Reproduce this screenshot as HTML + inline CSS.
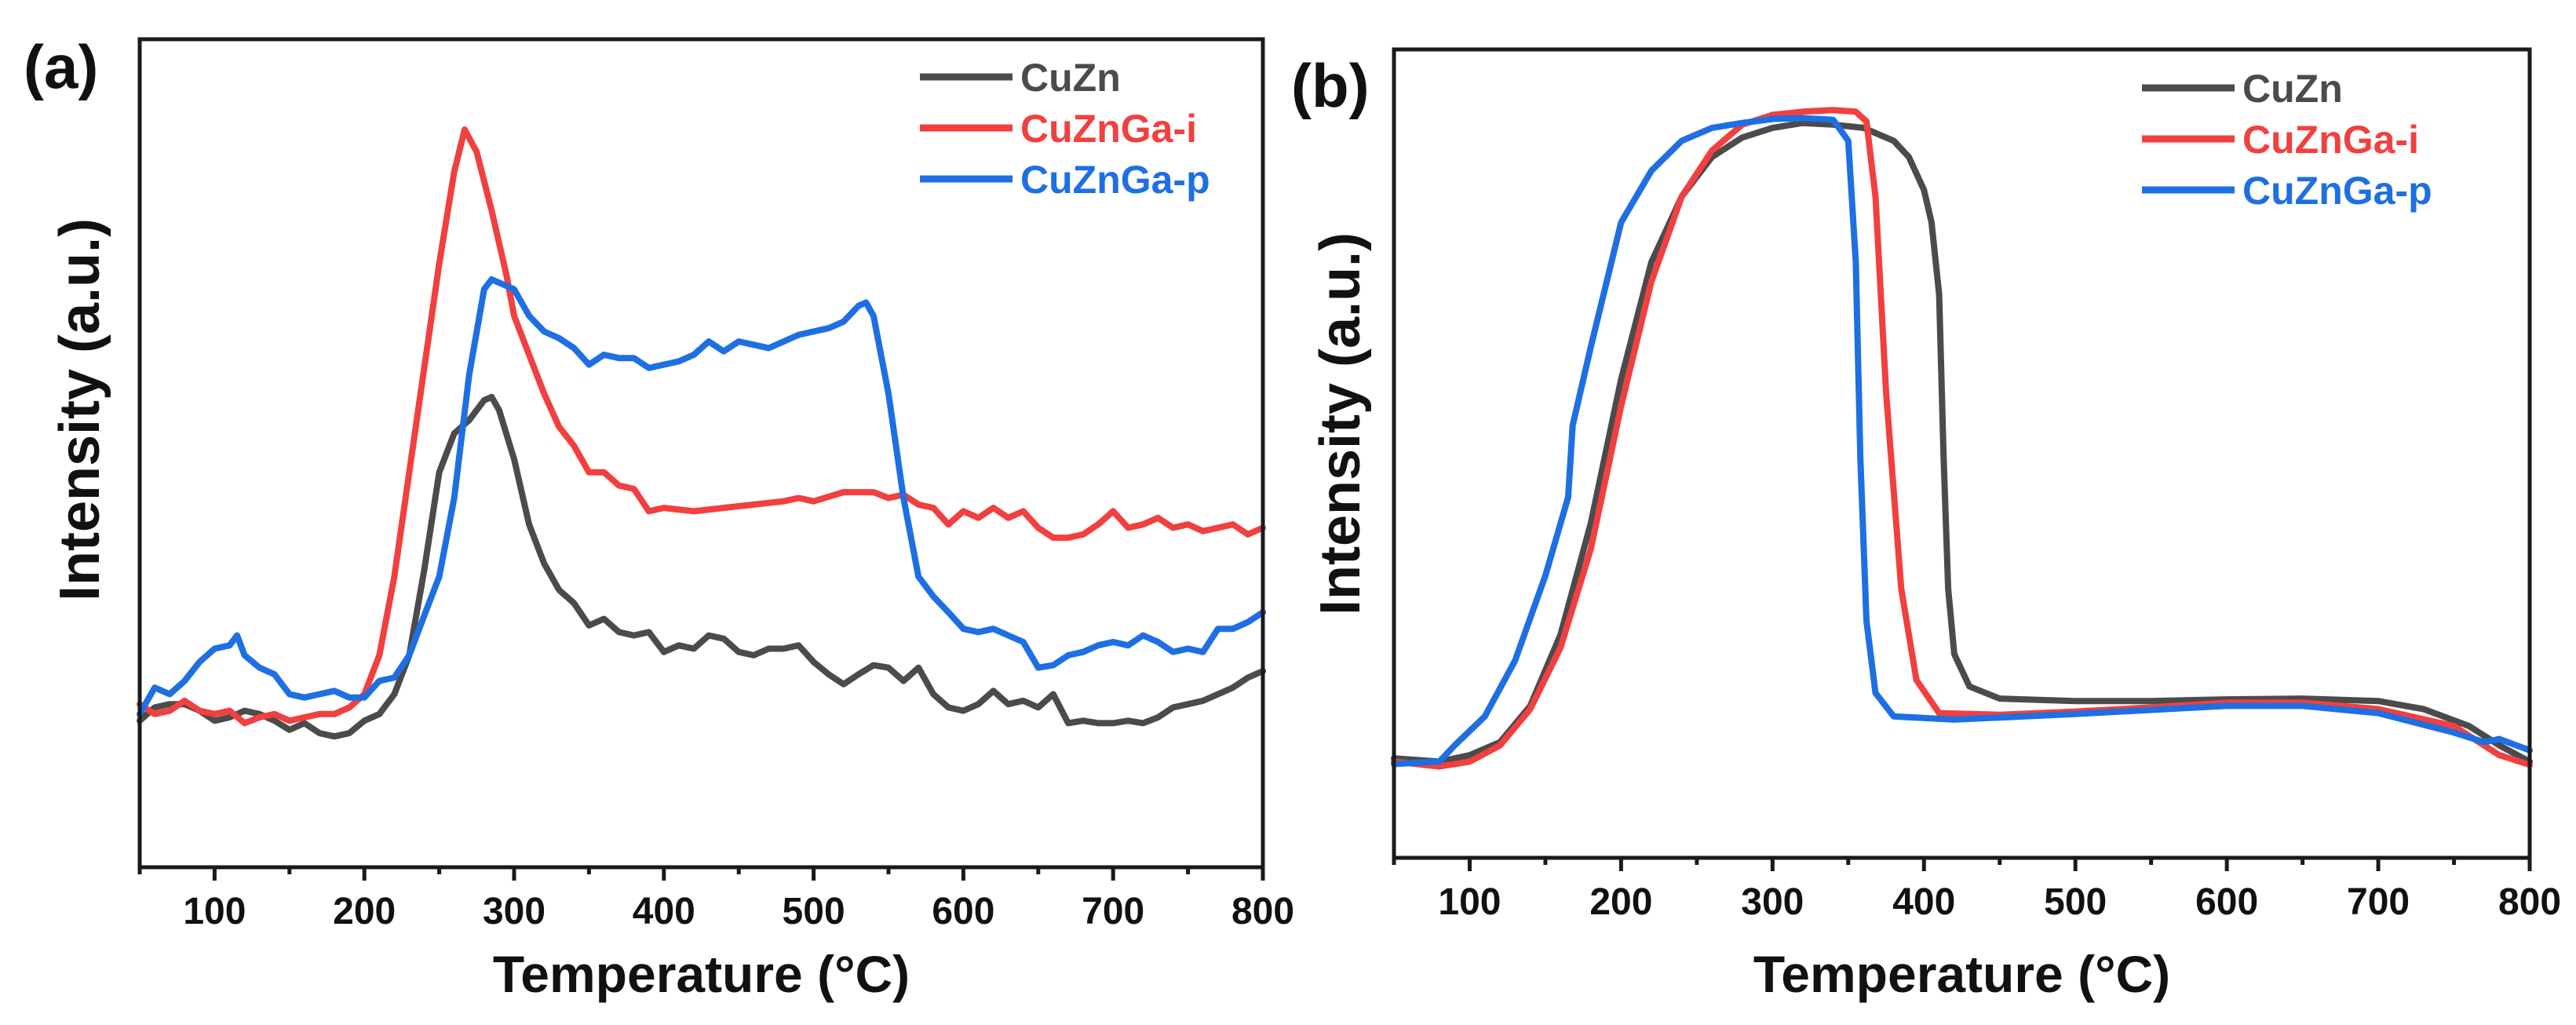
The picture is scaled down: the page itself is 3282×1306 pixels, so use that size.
<!DOCTYPE html>
<html><head><meta charset="utf-8"><style>
body{margin:0;background:#fff;}
svg{display:block;font-family:"Liberation Sans",Arial,sans-serif;font-weight:bold;}
</style></head><body>
<svg id="fig" width="3282" height="1306" viewBox="0 0 3282 1306" xmlns="http://www.w3.org/2000/svg"></svg>
<script>
const seriesNames = ["CuZn","CuZnGa-i","CuZnGa-p"];
const xTicks = [100,200,300,400,500,600,700,800];
// Panel (a) data: [temperature, intensity]
const aCuZn = [[50,17.7],[60,19.3],[70,19.7],[80,19.7],[90,18.9],[100,17.7],[110,18.1],[120,18.9],[130,18.5],[140,17.7],[150,16.6],[160,17.4],[170,16.2],[180,15.8],[190,16.2],[200,17.7],[210,18.5],[220,20.9],[230,25.6],[240,35.9],[250,47.7],[260,52.4],[270,54.0],[280,56.4],[285,56.8],[290,55.2],[300,49.3],[310,41.4],[320,36.7],[330,33.5],[340,31.9],[350,29.2],[360,30.0],[370,28.4],[380,28.0],[390,28.4],[400,26.0],[410,26.8],[420,26.4],[430,28.0],[440,27.6],[450,26.0],[460,25.6],[470,26.4],[480,26.4],[490,26.8],[500,24.8],[510,23.3],[520,22.1],[530,23.3],[540,24.4],[550,24.1],[560,22.5],[570,24.1],[580,20.9],[590,19.3],[600,18.9],[610,19.7],[620,21.3],[630,19.7],[640,20.1],[650,19.3],[660,20.9],[670,17.4],[680,17.7],[690,17.4],[700,17.4],[710,17.7],[720,17.4],[730,18.1],[740,19.3],[750,19.7],[760,20.1],[770,20.9],[780,21.7],[790,22.9],[800,23.7]];
const aCuZnGaI = [[50,19.7],[60,18.5],[70,18.9],[80,20.1],[90,18.9],[100,18.5],[110,18.9],[120,17.4],[130,18.1],[140,18.5],[150,17.7],[160,18.1],[170,18.5],[180,18.5],[190,19.3],[200,20.9],[210,25.6],[220,35.1],[230,47.7],[240,60.3],[250,72.9],[260,84.0],[267,89.1],[275,86.4],[285,79.3],[295,71.4],[300,66.6],[310,61.9],[320,57.2],[330,53.2],[340,50.9],[350,47.7],[360,47.7],[370,46.1],[380,45.7],[390,43.0],[400,43.4],[420,43.0],[440,43.4],[460,43.8],[480,44.2],[490,44.6],[500,44.2],[520,45.3],[540,45.3],[550,44.6],[560,45.0],[570,43.8],[580,43.4],[590,41.4],[600,43.0],[610,42.2],[620,43.4],[630,42.2],[640,43.0],[650,41.0],[660,39.8],[670,39.8],[680,40.2],[690,41.4],[700,43.0],[710,41.0],[720,41.4],[730,42.2],[740,41.0],[750,41.4],[760,40.6],[770,41.0],[780,41.4],[790,40.2],[800,41.0]];
const aCuZnGaP = [[50,18.5],[60,21.7],[70,20.9],[80,22.5],[90,24.8],[100,26.4],[110,26.8],[115,28.0],[120,25.6],[130,24.1],[140,23.3],[150,20.9],[160,20.5],[170,20.9],[180,21.3],[190,20.5],[200,20.5],[210,22.5],[220,22.9],[230,25.6],[240,30.4],[250,35.1],[260,44.6],[270,59.5],[280,69.8],[285,71.0],[290,70.6],[300,69.8],[310,66.6],[320,64.7],[330,63.9],[340,62.7],[350,60.7],[360,61.9],[370,61.5],[380,61.5],[390,60.3],[400,60.7],[410,61.1],[420,61.9],[430,63.5],[440,62.3],[450,63.5],[460,63.1],[470,62.7],[480,63.5],[490,64.3],[500,64.7],[510,65.1],[520,65.9],[530,67.8],[535,68.2],[540,66.6],[550,57.2],[560,44.6],[570,35.1],[580,32.7],[590,30.8],[600,28.8],[610,28.4],[620,28.8],[630,28.0],[640,27.2],[650,24.1],[660,24.4],[670,25.6],[680,26.0],[690,26.8],[700,27.2],[710,26.8],[720,28.0],[730,27.2],[740,26.0],[750,26.4],[760,26.0],[770,28.8],[780,28.8],[790,29.6],[800,30.8]];
// Panel (b) data
const bCuZn = [[50,12.3],[80,11.9],[100,12.7],[120,14.3],[140,18.8],[160,27.6],[180,41.4],[200,59.2],[220,73.7],[240,81.8],[260,86.7],[280,89.1],[300,90.3],[320,90.9],[340,90.7],[360,90.3],[380,88.7],[390,86.7],[400,82.6],[405,78.6],[410,69.7],[413,49.5],[416,33.3],[420,25.2],[430,21.2],[450,19.7],[500,19.4],[550,19.4],[600,19.6],[650,19.7],[700,19.4],[730,18.4],[760,16.3],[780,13.9],[800,11.9]];
const bCuZnGaI = [[50,11.9],[80,11.3],[100,11.9],[120,13.9],[140,18.4],[160,26.0],[180,38.2],[200,55.9],[220,71.3],[240,81.8],[260,87.5],[280,90.7],[300,91.9],[320,92.3],[340,92.5],[355,92.3],[362,91.1],[368,81.8],[375,57.6],[385,33.3],[395,22.0],[410,17.9],[450,17.7],[500,18.1],[550,18.6],[600,19.2],[650,19.2],[700,18.4],[750,16.3],[780,12.7],[800,11.5]];
const bCuZnGaP = [[50,11.6],[80,11.9],[90,13.9],[110,17.5],[130,24.4],[150,34.9],[165,44.6],[168,53.5],[180,63.2],[200,78.6],[220,85.0],[240,88.7],[260,90.3],[280,90.9],[300,91.4],[320,91.5],[340,91.3],[350,88.7],[355,73.7],[358,49.5],[362,29.3],[368,20.4],[380,17.5],[420,17.1],[500,17.8],[600,18.8],[650,18.8],[700,17.9],[750,15.5],[770,14.3],[780,14.7],[800,13.3]];

const colors = ["#4b4b4b","#f23f3f","#1e6fe3"];
const NS="http://www.w3.org/2000/svg";
const svg=document.getElementById('fig');
function mk(tag,attrs,parent){const e=document.createElementNS(NS,tag);for(const k in attrs)e.setAttribute(k,attrs[k]);(parent||svg).appendChild(e);return e;}

function panel(cfg){
  const g=mk('g',{});
  
  
  const xs=v=>cfg.x0+(v-50)/750*(cfg.x1-cfg.x0);
  const ys=v=>cfg.y1-v/100*(cfg.y1-cfg.y0);
  cfg.series.forEach((s,i)=>{
    const p=mk('polyline',{points:s.map(d=>xs(d[0]).toFixed(1)+','+ys(d[1]).toFixed(1)).join(' '),fill:'none',stroke:colors[i],'stroke-width':8,'stroke-linejoin':'round','stroke-linecap':'round'},g);
    
    
  });
  const frame=mk('rect',{x:cfg.x0,y:cfg.y0,width:cfg.x1-cfg.x0,height:cfg.y1-cfg.y0,fill:'none',stroke:'#1a1a1a','stroke-width':5},g);
  
  
  for(let t=50;t<=800;t+=50){
    const major=t%100===0;
    const tk=mk('line',{x1:xs(t),x2:xs(t),y1:cfg.y1,y2:cfg.y1+(major?17:9),stroke:'#1a1a1a','stroke-width':5},g);
    
    
  }
  xTicks.forEach(t=>{
    const tl=mk('text',{x:xs(t),y:cfg.y1+72,'font-size':48,'text-anchor':'middle',fill:'#111'},g);
    tl.textContent=t;
    
    
  });
  const xt=mk('text',{x:(cfg.x0+cfg.x1)/2,y:1264,'font-size':66,'text-anchor':'middle',fill:'#111'},g);
  xt.textContent='Temperature (°C)';
  
  
  const yt=mk('text',{x:0,y:0,'font-size':72,'text-anchor':'middle',fill:'#111',transform:`translate(${cfg.yTitleX},${cfg.yTitleY}) rotate(-90)`},g);
  yt.textContent='Intensity (a.u.)';
  
  
  const pl=mk('text',{x:cfg.labelX,y:cfg.labelY,'font-size':78,fill:'#111'},g);
  pl.textContent='('+cfg.id+')';
  
  
  seriesNames.forEach((n,i)=>{
    const y=cfg.legY+i*65;
    const ll=mk('line',{x1:cfg.legX,x2:cfg.legX+118,y1:y,y2:y,stroke:colors[i],'stroke-width':9},g);
    
    
    const lt=mk('text',{x:cfg.legX+128,y:y+18,'font-size':50,fill:colors[i]},g);
    lt.textContent=n;
    
    
  });
}
panel({id:'a',x0:178,x1:1609,y0:50,y1:1105,series:[aCuZn,aCuZnGaI,aCuZnGaP],yTitleX:126,yTitleY:522,labelX:30,labelY:112,legX:1172,legY:98});
panel({id:'b',x0:1776,x1:3223,y0:63,y1:1093,series:[bCuZn,bCuZnGaI,bCuZnGaP],yTitleX:1732,yTitleY:540,labelX:1645,labelY:136,legX:2729,legY:112});
</script>
</body></html>
